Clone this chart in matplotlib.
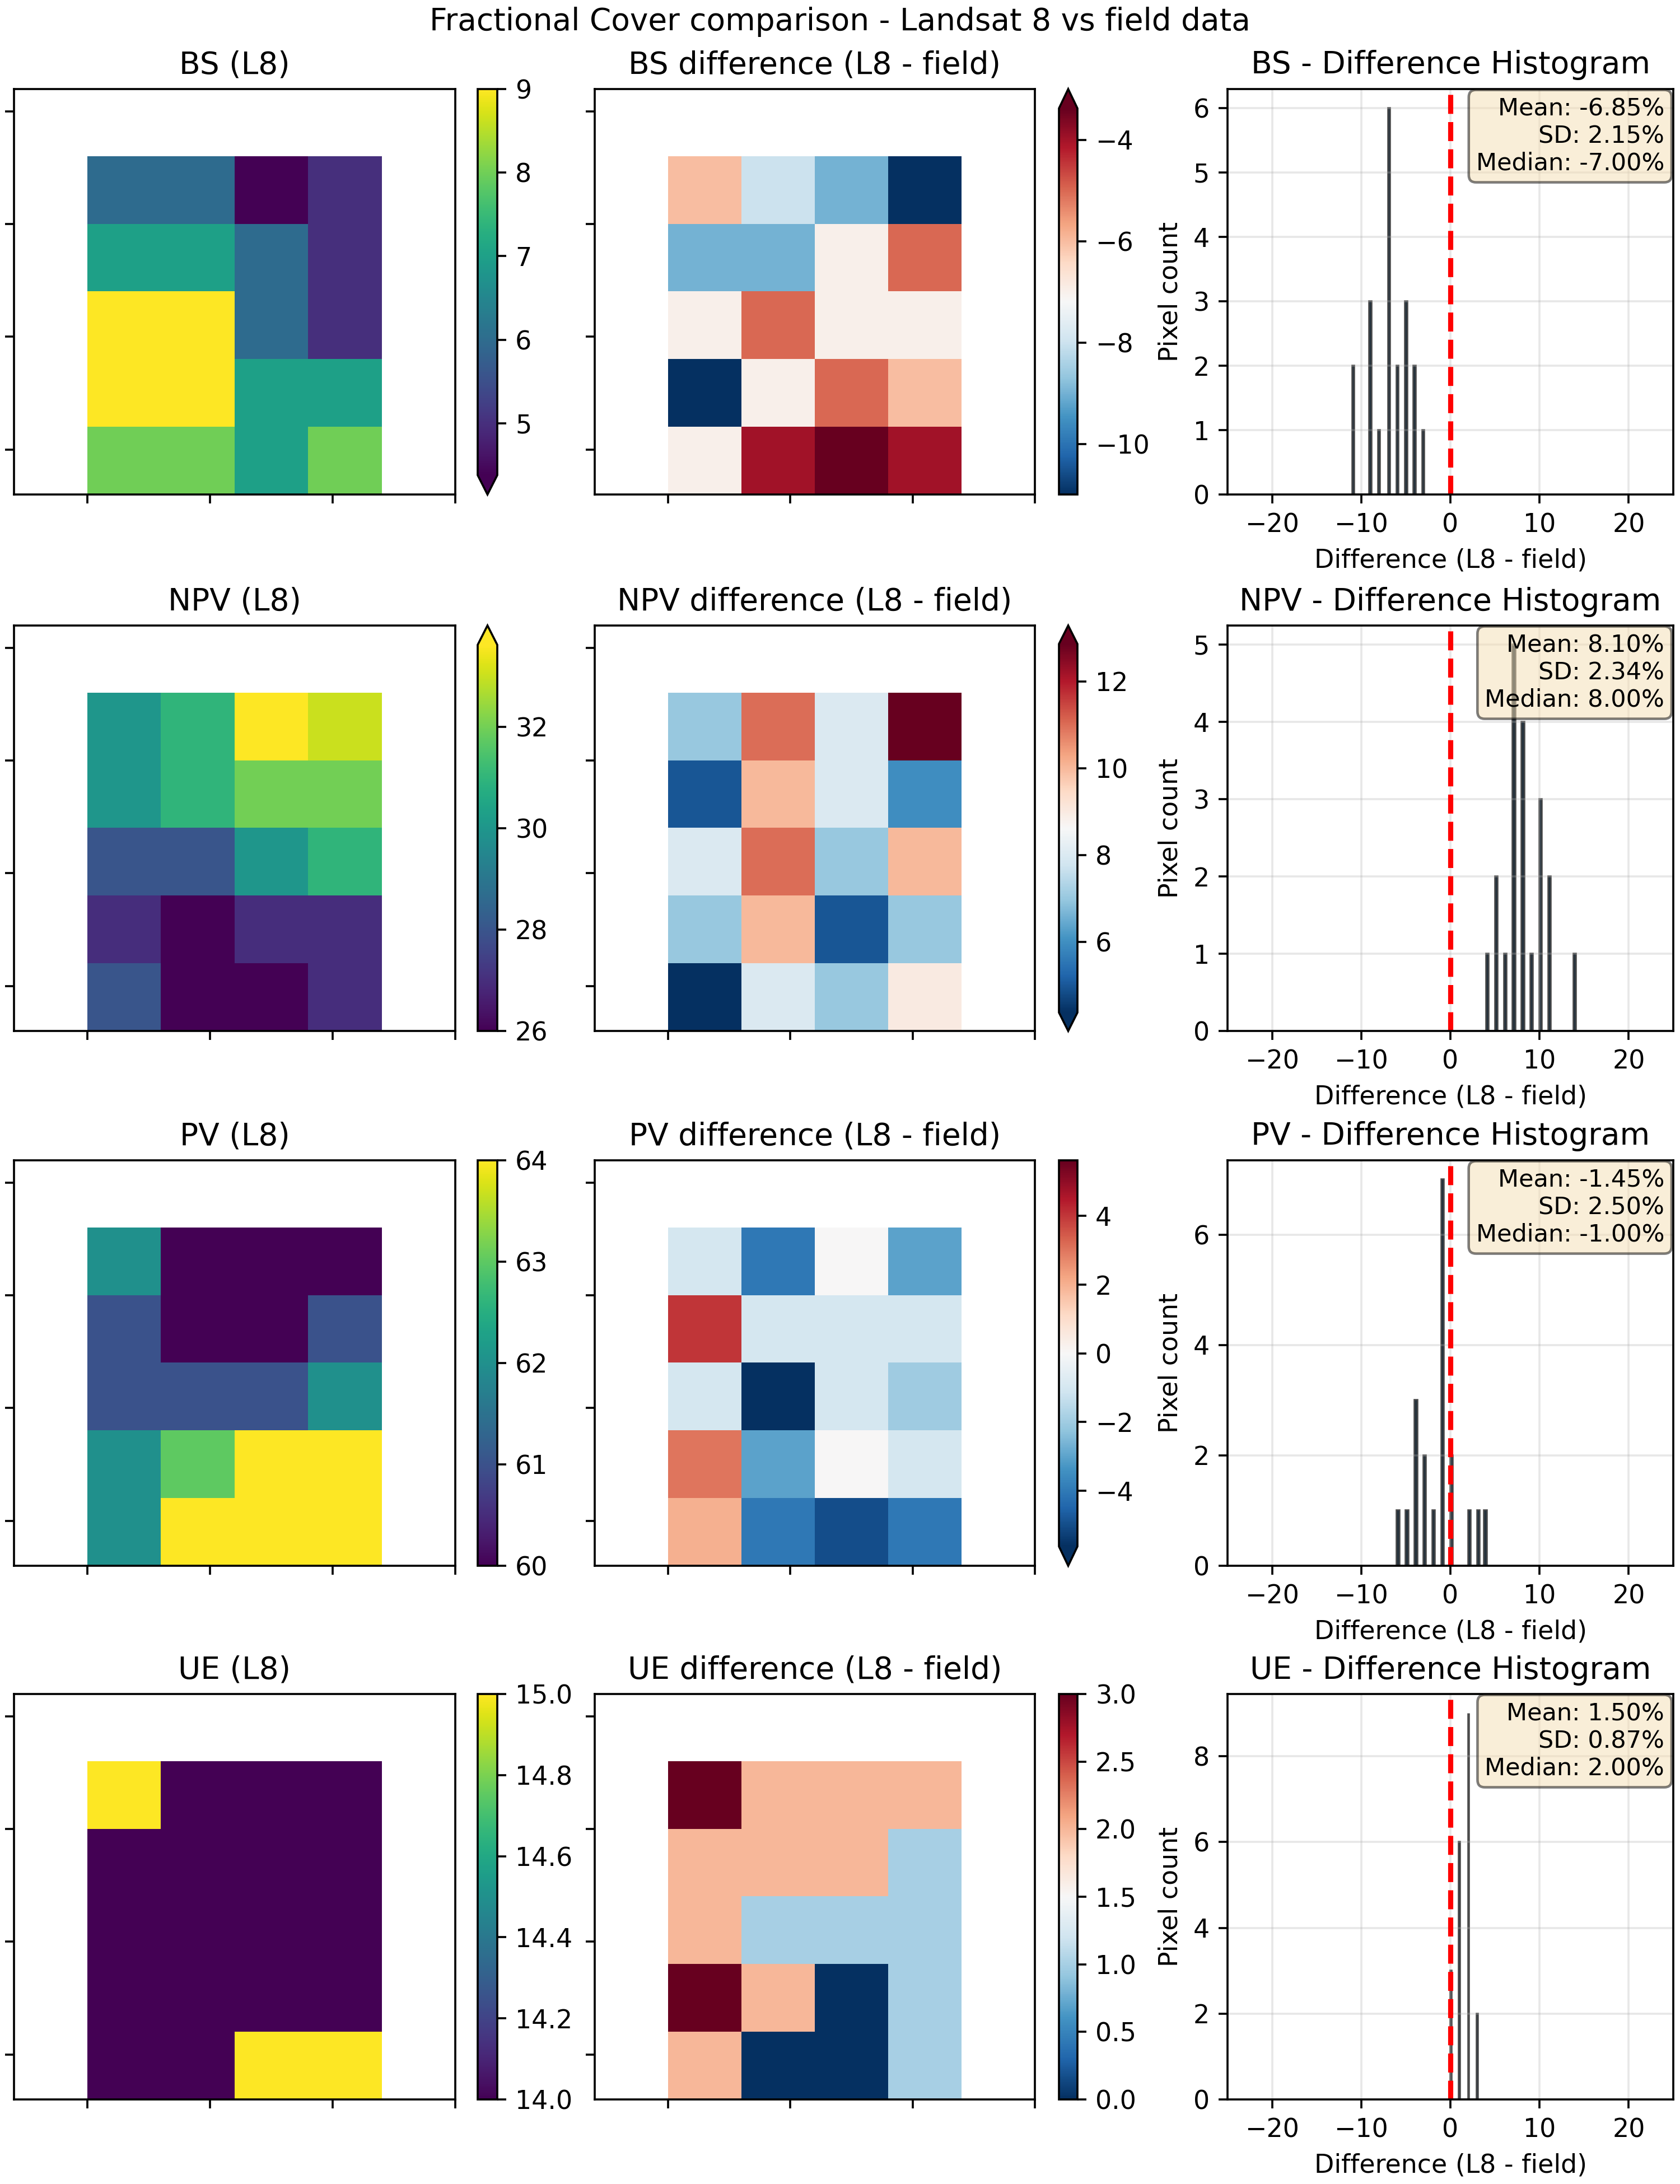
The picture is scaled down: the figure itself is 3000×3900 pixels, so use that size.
import numpy as np
import matplotlib
matplotlib.use('Agg')
import matplotlib.pyplot as plt

# fractional cover classes
classes = ['BS', 'NPV', 'PV', 'UE']

# Landsat 8 values (%), 5 rows x 4 cols
bs_l8 = [[6, 6, 4, 5],
         [7, 7, 6, 5],
         [9, 9, 6, 5],
         [9, 9, 7, 7],
         [8, 8, 7, 8]]
npv_l8 = [[30, 31, 34, 33],
          [30, 31, 32, 32],
          [28, 28, 30, 31],
          [27, 26, 27, 27],
          [28, 26, 26, 27]]
pv_l8 = [[62, 60, 60, 60],
         [61, 60, 60, 61],
         [61, 61, 61, 62],
         [62, 63, 64, 64],
         [62, 64, 64, 64]]
ue_l8 = [[15, 14, 14, 14],
         [14, 14, 14, 14],
         [14, 14, 14, 14],
         [14, 14, 14, 14],
         [14, 14, 15, 15]]

# difference L8 - field (%)
bs_diff = [[-6, -8, -9, -11],
           [-9, -9, -7, -5],
           [-7, -5, -7, -7],
           [-11, -7, -5, -6],
           [-7, -4, -3, -4]]
npv_diff = [[7, 11, 8, 14],
            [5, 10, 8, 6],
            [8, 11, 7, 10],
            [7, 10, 5, 7],
            [4, 8, 7, 9]]
pv_diff = [[-1, -4, 0, -3],
           [4, -1, -1, -1],
           [-1, -6, -1, -2],
           [3, -3, 0, -1],
           [2, -4, -5, -4]]
ue_diff = [[3, 2, 2, 2],
           [2, 2, 2, 1],
           [2, 1, 1, 1],
           [3, 2, 0, 1],
           [2, 0, 0, 1]]

l8_data = [bs_l8, npv_l8, pv_l8, ue_l8]
diff_data = [bs_diff, npv_diff, pv_diff, ue_diff]

# pixel footprint (m) and plot window
cell = 30
img_extent = [0, 4 * cell, -20, -20 + 5 * cell]
win_x = (-30, 150)
win_y = (-20, 160)
map_ticks = [0, 50, 100, 150]

W, H = 3000, 3900
DPI = 330
row_tops = [159, 1117, 2072, 3025]
row_h = 724


def rect(x, y, w, h):
    return [x / W, 1 - (y + h) / H, w / W, h / H]


def get_extend(arr, vmin, vmax):
    lo = arr.min() < vmin
    hi = arr.max() > vmax
    if lo and hi:
        return 'both'
    if lo:
        return 'min'
    if hi:
        return 'max'
    return 'neither'


def draw_map(ax, cax, arr, cmap, vmin, vmax, title):
    im = ax.imshow(arr, cmap=cmap, vmin=vmin, vmax=vmax, extent=img_extent,
                   aspect='auto', interpolation='nearest')
    ax.set_xlim(win_x)
    ax.set_ylim(win_y)
    ax.set_xticks(map_ticks)
    ax.set_yticks(map_ticks)
    ax.set_xticklabels([])
    ax.set_yticklabels([])
    ax.set_title(title)
    plt.colorbar(im, cax=cax, extend=get_extend(arr, vmin, vmax))


fig = plt.figure(figsize=(W / DPI, H / DPI), dpi=DPI)

for i, name in enumerate(classes):
    y = row_tops[i]
    l8 = np.array(l8_data[i], dtype=float)
    diff = np.array(diff_data[i], dtype=float)

    # L8 map
    ax1 = fig.add_axes(rect(25, y, 788, row_h))
    cax1 = fig.add_axes(rect(853, y, 35, row_h))
    vmin, vmax = np.percentile(l8, [2, 98])
    draw_map(ax1, cax1, l8, 'viridis', vmin, vmax, f'{name} (L8)')

    # difference map
    ax2 = fig.add_axes(rect(1062, y, 786, row_h))
    cax2 = fig.add_axes(rect(1891, y, 33, row_h))
    dmin, dmax = np.percentile(diff, [2, 98])
    if dmin < 0 < dmax:
        v = max(abs(dmin), abs(dmax))
        dmin, dmax = -v, v
    draw_map(ax2, cax2, diff, 'RdBu_r', dmin, dmax, f'{name} difference (L8 - field)')

    # histogram
    ax3 = fig.add_axes(rect(2192, y, 796, row_h))
    vals = diff.ravel()
    ax3.hist(vals, bins=50, color='steelblue', edgecolor='black', alpha=0.7)
    ax3.axvline(0, color='red', linestyle='--', linewidth=2)
    ax3.set_xlim(-25, 25)
    ax3.set_xlabel('Difference (L8 - field)')
    ax3.set_ylabel('Pixel count')
    ax3.set_title(f'{name} - Difference Histogram')
    ax3.grid(True, alpha=0.3)
    stats = (f'Mean: {vals.mean():.2f}%\n'
             f'SD: {vals.std():.2f}%\n'
             f'Median: {np.median(vals):.2f}%')
    ax3.text(0.98, 0.98, stats, transform=ax3.transAxes, ha='right', va='top',
             fontsize=9.4, bbox=dict(boxstyle='round', facecolor='wheat', alpha=0.5))

fig.suptitle('Fractional Cover comparison - Landsat 8 vs field data', y=0.997)

fig.savefig('out.png', dpi=DPI)
